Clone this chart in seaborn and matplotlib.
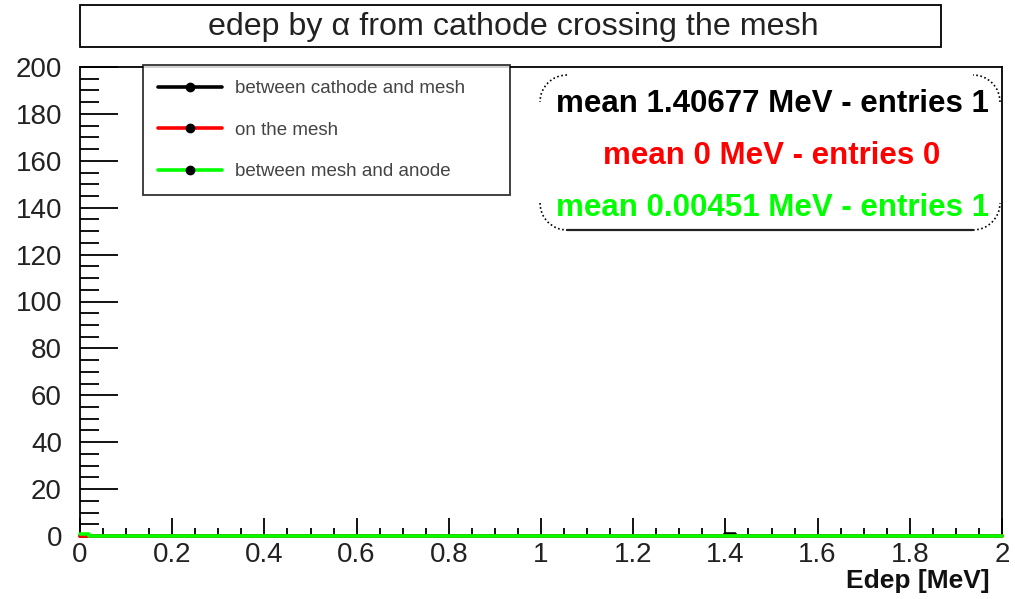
import numpy as np
import pandas as pd
import matplotlib
matplotlib.use("Agg")
import matplotlib.pyplot as plt
import seaborn as sns
from matplotlib.lines import Line2D
from matplotlib.patches import Arc, Rectangle

# ---- data ----
x_min, x_max, n_bins = 0.0, 2.0, 100
series_names = ["between cathode and mesh", "on the mesh", "between mesh and anode"]
series_colors = ["#000000", "#ff0000", "#00ff00"]
cathode_mesh_edep = [1.40677]
on_mesh_edep = []
mesh_anode_edep = [0.00451]
stats_lines = ["mean 1.40677 MeV - entries 1",
               "mean 0 MeV - entries 0",
               "mean 0.00451 MeV - entries 1"]
title_text = "edep by \u03b1 from cathode crossing the mesh"
xlabel_text = "Edep [MeV]"
x_ticks = [0, 0.2, 0.4, 0.6, 0.8, 1, 1.2, 1.4, 1.6, 1.8, 2]
x_ticklabels = ["0", "0.2", "0.4", "0.6", "0.8", "1", "1.2", "1.4", "1.6", "1.8", "2"]
y_ticks = [0, 20, 40, 60, 80, 100, 120, 140, 160, 180, 200]

sns.set_style("white")
plt.rcParams['font.family'] = ['Liberation Sans', 'DejaVu Sans']

W, H = 1015, 599
fig = plt.figure(figsize=(W/100, H/100), dpi=100)
ax = fig.add_axes([80/W, 1-536/H, 922/W, 469/H])

bin_edges = np.linspace(x_min, x_max, n_bins + 1)
centers = 0.5 * (bin_edges[:-1] + bin_edges[1:])
binw = (x_max - x_min) / n_bins
rows = []
for name, vals in zip(series_names, [cathode_mesh_edep, on_mesh_edep, mesh_anode_edep]):
    counts, _ = np.histogram(vals, bins=bin_edges)
    for c, n in zip(centers, counts):
        rows.append({"x": float(c), "w": float(n), "series": name})
df = pd.DataFrame(rows)

for name, col in zip(series_names, series_colors):
    sub = df[df["series"] == name].reset_index(drop=True)
    sns.histplot(data=sub, x="x", weights="w", binwidth=binw, binrange=(x_min, x_max),
                 element="step", fill=False, color=col, linewidth=2.6, ax=ax)
for ln in ax.lines:
    ln.set_zorder(3)
    ln.set_clip_on(False)
for p in ax.patches:
    p.set_zorder(3)
    p.set_clip_on(False)

ax.set_xlim(0, 2)
ax.set_ylim(0, 200)
ax.set_xticks(x_ticks)
ax.set_xticklabels(x_ticklabels)
ax.set_yticks(y_ticks)
ax.set_xticks(np.arange(0, 2.0001, 0.05), minor=True)
ax.set_yticks(np.arange(0, 200.001, 5), minor=True)
ax.set_xlabel("")
ax.set_ylabel("")
ax.tick_params(axis="both", which="both", direction="in", colors="black",
               labelcolor="#222222", labelsize=20)
ax.tick_params(axis="y", which="major", length=27, width=1.3, pad=13, left=True)
ax.tick_params(axis="y", which="minor", length=14, width=1.3, left=True)
ax.tick_params(axis="x", which="major", length=13, width=1.3, pad=4, bottom=True)
ax.tick_params(axis="x", which="minor", length=6, width=1.3, bottom=True)
for s in ax.spines.values():
    s.set_color("black")
    s.set_linewidth(1.3)
    s.set_visible(True)

fig.text(990/W, 1-581/H, xlabel_text, ha="right", va="center",
         fontsize=19, fontweight="bold", color="#111111")

# title box
fig.patches.append(Rectangle((80/W, 1-47/H), 861/W, 42/H,
                             transform=fig.transFigure, fill=False,
                             edgecolor="black", linewidth=1.3))
fig.text(513/W, 1-27/H, title_text, ha="center", va="center",
         fontsize=23.2, color="#222222")

# legend
handles = [Line2D([0], [0], color=c, lw=2.6, marker="o", markersize=6,
                  markerfacecolor="black", markeredgecolor="black")
           for c in series_colors]
leg = fig.legend(handles, series_names, loc="upper left",
                 bbox_to_anchor=(143/W, 1-190/H, 367/W, 125/H),
                 bbox_transform=fig.transFigure, mode="expand",
                 fontsize=13.5, frameon=True, fancybox=False, numpoints=1,
                 handlelength=3.4, handletextpad=0.7, labelspacing=1.3,
                 borderpad=0.8, labelcolor="#444444", borderaxespad=0)
leg.get_frame().set_edgecolor("black")
leg.get_frame().set_linewidth(1.3)

# stats box: dotted rounded corners + solid bottom edge (pixel geometry)
tr = fig.dpi_scale_trans
bx0, bx1, by0, by1, r = 540, 1000, 75, 230, 27
def P(px, py):
    return (px/100, (H - py)/100)
corners = [((bx0 + r, by0 + r), 90, 180), ((bx1 - r, by0 + r), 0, 90),
           ((bx0 + r, by1 - r), 180, 270), ((bx1 - r, by1 - r), 270, 360)]
for (cx, cy), a0, a1 in corners:
    fig.patches.append(Arc(P(cx, cy), 2*r/100, 2*r/100, theta1=a0, theta2=a1,
                           transform=tr, color="black", linewidth=1.2,
                           linestyle=(0, (1, 1.5))))
fig.lines.append(Line2D([P(bx0 + r, 0)[0], P(bx1 - r, 0)[0]],
                        [P(0, by1)[1], P(0, by1)[1]], transform=tr,
                        color="#222222", linewidth=1.6))
for i, (t, c) in enumerate(zip(stats_lines, series_colors)):
    fig.text(772/W, 1-(104 + 52*i)/H, t, ha="center", va="center",
             fontsize=22.5, fontweight="bold", color=c)

fig.savefig("out.png", dpi=100, facecolor="white")
